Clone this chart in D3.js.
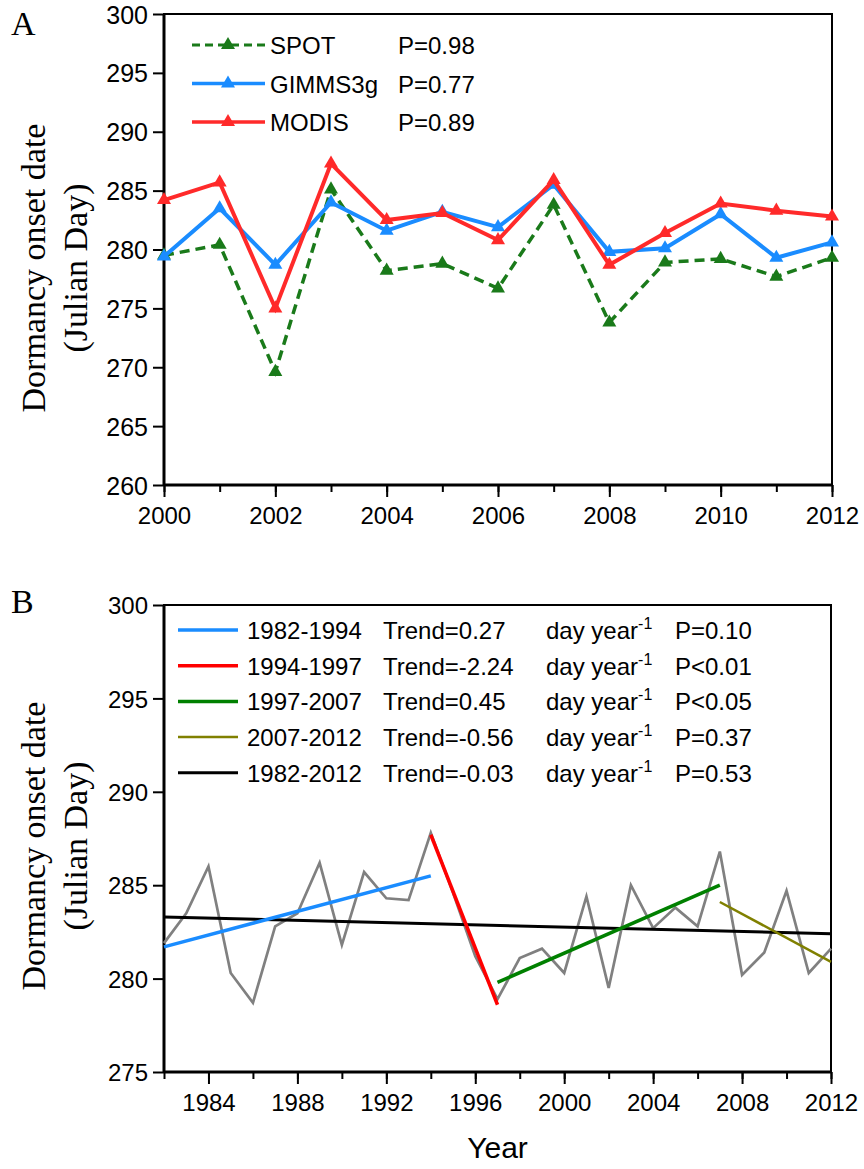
<!DOCTYPE html>
<html>
<head>
<meta charset="utf-8">
<script src="https://cdn.jsdelivr.net/npm/d3@7"></script>
<style>
  html, body { margin: 0; padding: 0; background: #fff; }
  svg { display: block; }
  .tick text { font-family: "Liberation Sans", Arial, sans-serif; }
</style>
</head>
<body>
<div id="chart"></div>
<script>
// Panel A: dormancy onset from three satellite products
const yearsA = [2000, 2001, 2002, 2003, 2004, 2005, 2006, 2007, 2008, 2009, 2010, 2011, 2012];
const spot   = [279.5, 280.4, 269.6, 285.1, 278.2, 278.8, 276.7, 283.8, 273.8, 278.9, 279.2, 277.7, 279.3];
const gimms  = [279.4, 283.5, 278.7, 284.0, 281.6, 283.2, 281.9, 285.5, 279.8, 280.1, 283.0, 279.3, 280.6];
const modis  = [284.2, 285.7, 275.0, 287.3, 282.5, 283.1, 280.8, 285.9, 278.7, 281.4, 283.9, 283.3, 282.8];
const seriesNamesA = ['SPOT', 'GIMMS3g', 'MODIS'];
const seriesPA = ['P=0.98', 'P=0.77', 'P=0.89'];
const yTicksA = [260, 265, 270, 275, 280, 285, 290, 295, 300];
const xLabelsA = [2000, 2002, 2004, 2006, 2008, 2010, 2012];

// Panel B: long-term series 1982-2012 and piecewise trends
const yearsB = [1982, 1983, 1984, 1985, 1986, 1987, 1988, 1989, 1990, 1991, 1992, 1993, 1994, 1995, 1996,
                1997, 1998, 1999, 2000, 2001, 2002, 2003, 2004, 2005, 2006, 2007, 2008, 2009, 2010, 2011, 2012];
const dormancy = [281.9, 283.5, 286.0, 280.3, 278.7, 282.8, 283.5, 286.2, 281.8, 285.7, 284.3, 284.2, 287.8, 284.6, 281.2,
                  278.9, 281.1, 281.6, 280.3, 284.4, 279.5, 285.0, 282.7, 283.8, 282.8, 286.8, 280.2, 281.4, 284.7, 280.3, 281.6];
const trendFrom  = [1982, 1994, 1997, 2007, 1982];
const trendTo    = [1994, 1997, 2007, 2012, 2012];
const trendStart = [281.7, 287.7, 279.8, 284.1, 283.3];
const trendEnd   = [285.5, 278.6, 285.0, 280.9, 282.4];
const trendLabel = ['Trend=0.27', 'Trend=-2.24', 'Trend=0.45', 'Trend=-0.56', 'Trend=-0.03'];
const trendP     = ['P=0.10', 'P<0.01', 'P<0.05', 'P=0.37', 'P=0.53'];
const yTicksB = [275, 280, 285, 290, 295, 300];
const xLabelsB = [1984, 1988, 1992, 1996, 2000, 2004, 2008, 2012];

const W = 864, H = 1169;
const sans = '"Liberation Sans", Arial, sans-serif';
const serif = '"Liberation Serif", "Times New Roman", serif';
const colorsA = ['#1a7a1a', '#1a8cff', '#ff2a2a'];
const trendColors = ['#1a8cff', '#ff0000', '#008000', '#808000', '#000000'];
const trendWidths = [3.5, 3.5, 3.5, 2.5, 3];

const svg = d3.select('#chart').append('svg')
  .attr('width', W).attr('height', H);

// 軸の共通描画
function drawFrame(x, y, yTicks, xMinor, xMajor, yFont) {
  const g = svg.append('g');
  const [x0, x1] = x.range();
  const [yb, yt] = y.range();

  g.append('g')
    .attr('transform', `translate(0,${yb})`)
    .call(d3.axisBottom(x).tickValues(xMinor).tickSize(7).tickFormat(''))
    .call(s => s.select('.domain').remove())
    .selectAll('line').attr('stroke-width', 2);

  g.append('g')
    .attr('transform', `translate(0,${yb})`)
    .call(d3.axisBottom(x).tickValues(xMajor).tickSize(12).tickPadding(10).tickFormat(d3.format('d')))
    .call(s => s.select('.domain').remove())
    .call(s => s.selectAll('line').attr('stroke-width', 2))
    .selectAll('text').attr('font-size', 24).attr('fill', '#000');

  g.append('g')
    .attr('transform', `translate(${x0},0)`)
    .call(d3.axisLeft(y).tickValues(yTicks).tickSize(11).tickPadding(5))
    .call(s => s.select('.domain').remove())
    .call(s => s.selectAll('line').attr('stroke-width', 2))
    .selectAll('text').attr('font-size', yFont).attr('fill', '#000').attr('dy', '0.36em');

  g.append('rect')
    .attr('x', x0).attr('y', yt)
    .attr('width', x1 - x0).attr('height', yb - yt)
    .attr('fill', 'none').attr('stroke', '#000').attr('stroke-width', 2);
  g.append('line')
    .attr('x1', x0).attr('x2', x0).attr('y1', yt).attr('y2', yb)
    .attr('stroke', '#000').attr('stroke-width', 3);
  g.append('line')
    .attr('x1', x0).attr('x2', x1).attr('y1', yb).attr('y2', yb)
    .attr('stroke', '#000').attr('stroke-width', 3);
}

function yTitle(cy) {
  const t = svg.append('text')
    .attr('transform', `translate(45,${cy}) rotate(-90)`)
    .attr('text-anchor', 'middle')
    .attr('font-family', serif).attr('font-size', 34);
  t.append('tspan').attr('x', 0).attr('y', 0).text('Dormancy onset date');
  t.append('tspan').attr('x', 0).attr('y', 42).text('(Julian Day)');
}

// ---------- Panel A ----------
const xA = d3.scaleLinear().domain([2000, 2012]).range([164, 832]);
const yA = d3.scaleLinear().domain([260, 300]).range([485, 14]);

drawFrame(xA, yA, yTicksA, yearsA, xLabelsA, 25);

const triangle = d3.symbol().type(d3.symbolTriangle).size(85);
const seriesA = [spot, gimms, modis];
const lineA = d3.line().x(d => xA(d[0])).y(d => yA(d[1]));

seriesA.forEach((vals, i) => {
  const pts = yearsA.map((yr, j) => [yr, vals[j]]);
  svg.append('path')
    .datum(pts)
    .attr('d', lineA)
    .attr('fill', 'none')
    .attr('stroke', colorsA[i])
    .attr('stroke-width', i === 0 ? 3.5 : 4)
    .attr('stroke-dasharray', i === 0 ? '10,6' : null);
  svg.append('g').selectAll('path')
    .data(pts)
    .enter().append('path')
    .attr('d', triangle)
    .attr('transform', d => `translate(${xA(d[0])},${yA(d[1])})`)
    .attr('fill', colorsA[i]);
});

// legend A
seriesNamesA.forEach((name, i) => {
  const cy = 45 + i * 38.5;
  svg.append('line')
    .attr('x1', 192).attr('x2', 265).attr('y1', cy).attr('y2', cy)
    .attr('stroke', colorsA[i]).attr('stroke-width', i === 0 ? 3 : 3.5)
    .attr('stroke-dasharray', i === 0 ? '8,5' : null);
  svg.append('path')
    .attr('d', triangle)
    .attr('transform', `translate(228,${cy})`)
    .attr('fill', colorsA[i]);
  svg.append('text')
    .attr('x', 270).attr('y', cy + 9)
    .attr('font-family', sans).attr('font-size', 24)
    .text(name);
  svg.append('text')
    .attr('x', 398).attr('y', cy + 9)
    .attr('font-family', sans).attr('font-size', 24)
    .text(seriesPA[i]);
});

svg.append('text').attr('x', 11).attr('y', 35)
  .attr('font-family', serif).attr('font-size', 34).text('A');
yTitle(268);

// ---------- Panel B ----------
const xB = d3.scaleLinear().domain([1982, 2012]).range([164, 831]);
const yB = d3.scaleLinear().domain([275, 300]).range([1072, 605]);
const minorB = yearsB.filter(y => y % 2 === 0);

drawFrame(xB, yB, yTicksB, minorB, xLabelsB, 24);

const lineB = d3.line().x(d => xB(d[0])).y(d => yB(d[1]));
svg.append('path')
  .datum(yearsB.map((yr, j) => [yr, dormancy[j]]))
  .attr('d', lineB)
  .attr('fill', 'none')
  .attr('stroke', '#808080')
  .attr('stroke-width', 2.7);

// black overall trend first, then the segments
[4, 0, 1, 2, 3].forEach(i => {
  svg.append('path')
    .datum([[trendFrom[i], trendStart[i]], [trendTo[i], trendEnd[i]]])
    .attr('d', lineB)
    .attr('fill', 'none')
    .attr('stroke', trendColors[i])
    .attr('stroke-width', trendWidths[i]);
});

// legend B
trendFrom.forEach((f, i) => {
  const cy = 630 + i * 35.7;
  svg.append('line')
    .attr('x1', 178).attr('x2', 238).attr('y1', cy).attr('y2', cy)
    .attr('stroke', trendColors[i]).attr('stroke-width', trendWidths[i]);
  const txt = (x, s) => svg.append('text')
    .attr('x', x).attr('y', cy + 9)
    .attr('font-family', sans).attr('font-size', 24)
    .text(s);
  txt(247, `${f}-${trendTo[i]}`);
  txt(383, trendLabel[i]);
  const unit = txt(546, 'day year');
  unit.append('tspan').attr('dy', -10).attr('font-size', 16).text('-1');
  txt(675, trendP[i]);
});

svg.append('text').attr('x', 11).attr('y', 613)
  .attr('font-family', serif).attr('font-size', 34).text('B');
yTitle(846);

svg.append('text')
  .attr('x', (xB.range()[0] + xB.range()[1]) / 2).attr('y', 1158)
  .attr('text-anchor', 'middle')
  .attr('font-family', sans).attr('font-size', 30)
  .text('Year');
</script>
</body>
</html>
